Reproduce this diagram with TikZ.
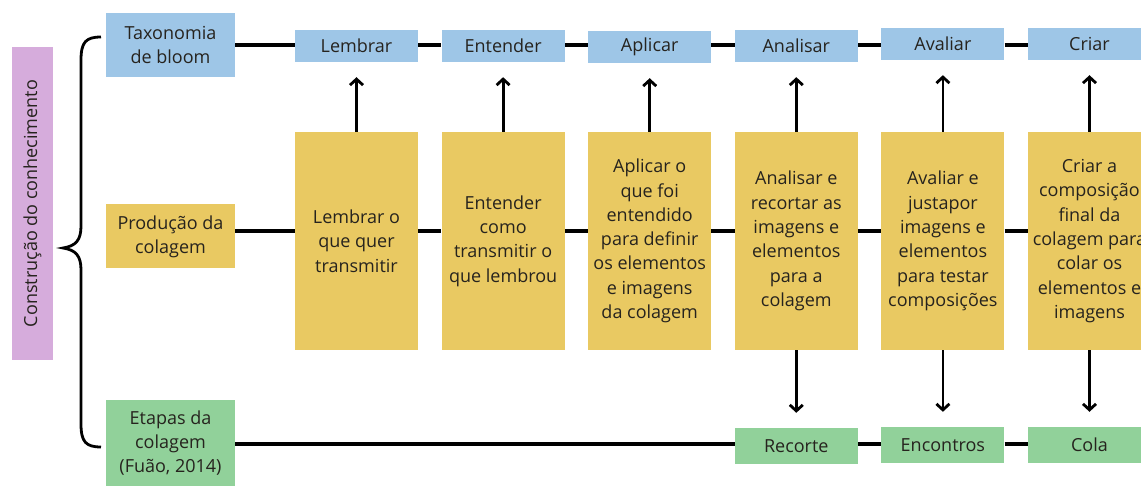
\documentclass[tikz,border=0pt]{standalone}
\usepackage{fontspec}
\setmainfont{Open Sans}
\usetikzlibrary{arrows.meta}
\definecolor{bbox}{RGB}{158,198,231}
\definecolor{ybox}{RGB}{233,201,98}
\definecolor{gbox}{RGB}{145,209,154}
\definecolor{pbox}{RGB}{214,172,220}
\definecolor{txt}{RGB}{38,35,30}
\begin{document}
\begin{tikzpicture}[x=1pt,y=-1pt,
  base/.style={inner sep=0pt, align=center, text=txt, font=\fontsize{18}{24.3}\selectfont},
  blue/.style={base, fill=bbox, minimum width=123pt, minimum height=32pt},
  yel/.style={base, fill=ybox, minimum width=123pt, minimum height=218pt},
  grn/.style={base, fill=gbox, minimum width=123pt, minimum height=36pt},
  lbl/.style={base, minimum width=129pt},
  conn/.style={line width=3.2pt, black},
  arr/.style={line width=2.8pt, black, -{Straight Barb[length=6pt,width=13pt]}, shorten >=15pt}]
\useasboundingbox (0,0) rectangle (1141,486);
\fill[white] (0,0) rectangle (1141,486);

% left label and brace
\node[base, fill=pbox, minimum width=41pt, minimum height=313pt] (pur) at (32.5,203.5) {};
\node[base, rotate=90] (purt) at (pur.center) {Construção do conhecimento};
\draw[line width=2.8pt] (101,37) .. controls (86,37) and (81,42) .. (81,60)
  -- (81,226) .. controls (81,240) and (76,246) .. (63,248)
  .. controls (76,250) and (81,256) .. (81,270)
  -- (81,424) .. controls (81,442) and (86,447) .. (101,447);

% row labels
\node[lbl, fill=bbox, minimum height=64pt] (tax) at (170.5,45) {Taxonomia\\de bloom};
\node[lbl, fill=ybox, minimum height=64pt] (prod) at (170.5,236.5) {Produção da\\colagem};
\node[lbl, fill=gbox, minimum height=86pt] (etp) at (170.5,443) {Etapas da\\colagem\\(Fuão, 2014)};

% blue row
\node[blue] (b1) at (356.5,46) {Lembrar};
\node[blue] (b2) at (503.1,46) {Entender};
\node[blue] (b3) at (649.7,47) {Aplicar};
\node[blue] (b4) at (796.3,46) {Analisar};
\node[blue] (b5) at (942.9,44) {Avaliar};
\node[blue] (b6) at (1089.5,44) {Criar};

% yellow row
\node[yel] (y1) at (356.5,241) {Lembrar o\\que quer\\transmitir};
\node[yel] (y2) at (503.1,241) {Entender\\como\\transmitir o\\que lembrou};
\node[yel] (y3) at (649.7,241) {Aplicar o\\que foi\\entendido\\para definir\\os elementos\\e imagens\\da colagem};
\node[yel] (y4) at (796.3,241) {Analisar e\\recortar as\\imagens e\\elementos\\para a\\colagem};
\node[yel] (y5) at (942.9,241) {Avaliar e\\justapor\\imagens e\\elementos\\para testar\\composições};
\node[yel] (y6) at (1089.5,241) {Criar a\\composição\\final da\\colagem para\\colar os\\elementos e\\imagens};

% green row
\node[grn] (g4) at (796.3,446) {Recorte};
\node[grn] (g5) at (942.9,445) {Encontros};
\node[grn] (g6) at (1089.5,445) {Cola};

% connectors top
\coordinate (top) at (0,45);
\draw[conn] (tax.east |- top) -- (b1.west |- top);
\draw[conn] (b1.east |- top) -- (b2.west |- top);
\draw[conn] (b2.east |- top) -- (b3.west |- top);
\draw[conn] (b3.east |- top) -- (b4.west |- top);
\draw[conn] (b4.east |- top) -- (b5.west |- top);
\draw[conn] (b5.east |- top) -- (b6.west |- top);

% connectors middle
\coordinate (mid) at (0,231);
\draw[conn] (prod.east |- mid) -- (y1.west |- mid);
\draw[conn] (y1.east |- mid) -- (y2.west |- mid);
\draw[conn] (y2.east |- mid) -- (y3.west |- mid);
\draw[conn] (y3.east |- mid) -- (y4.west |- mid);
\draw[conn] (y4.east |- mid) -- (y5.west |- mid);
\draw[conn] (y5.east |- mid) -- (y6.west |- mid);

% connectors bottom
\coordinate (bot) at (0,444);
\draw[conn] (etp.east |- bot) -- (g4.west |- bot);
\draw[conn] (g4.east |- bot) -- (g5.west |- bot);
\draw[conn] (g5.east |- bot) -- (g6.west |- bot);

% arrows up
\draw[arr] (y1.north) -- (b1.south);
\draw[arr] (y2.north) -- (b2.south);
\draw[arr] (y3.north) -- (b3.south);
\draw[arr] (y4.north) -- (b4.south);
\draw[arr] (y5.north) -- (b5.south);
\draw[arr] (y6.north) -- (b6.south);

% arrows down
\draw[arr] (y4.south) -- (g4.north);
\draw[arr] (y5.south) -- (g5.north);
\draw[arr] (y6.south) -- (g6.north);
\end{tikzpicture}
\end{document}
